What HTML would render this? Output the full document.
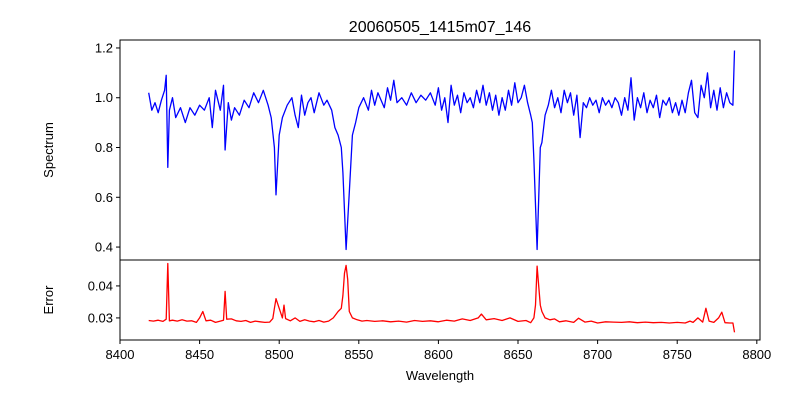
<!DOCTYPE html>
<html><head><meta charset="utf-8"><style>
body{margin:0;background:#fff;}
svg{display:block;font-family:"Liberation Sans","DejaVu Sans",sans-serif;}
</style></head><body>
<svg id="chart" width="800" height="400">
<text x="440" y="32" font-size="16" text-anchor="middle">20060505_1415m07_146</text>
<text x="53" y="150" font-size="13" text-anchor="middle" transform="rotate(-90 53 150)">Spectrum</text>
<text x="53" y="300" font-size="13" text-anchor="middle" transform="rotate(-90 53 300)">Error</text>
<text x="440" y="380" font-size="13" text-anchor="middle">Wavelength</text>
<g id="topPanel"></g>
<g id="botPanel"></g>
</svg>
<script>
const specW=[8418,8420,8422,8424,8426,8428,8429,8430,8431,8433,8435,8438,8441,8444,8447,8450,8453,8456,8458,8460,8463,8465,8466,8468,8470,8472,8475,8478,8481,8484,8487,8490,8493,8495,8497,8498,8500,8502,8505,8508,8510,8512,8514,8516,8518,8520,8522,8525,8528,8530,8533,8535,8537,8539,8540,8542,8544,8546,8548,8550,8553,8556,8558,8560,8562,8564,8566,8568,8570,8572,8574,8577,8580,8583,8586,8589,8592,8595,8598,8600,8602,8604,8606,8608,8610,8612,8614,8616,8618,8620,8622,8624,8626,8628,8630,8632,8634,8636,8638,8640,8642,8644,8646,8648,8650,8652,8654,8656,8658,8659,8660,8662,8664,8665,8667,8669,8671,8673,8675,8677,8679,8681,8683,8685,8687,8689,8691,8693,8695,8697,8699,8701,8703,8705,8707,8709,8711,8713,8715,8717,8719,8721,8723,8725,8727,8729,8731,8733,8735,8737,8739,8741,8743,8745,8747,8749,8751,8753,8755,8757,8759,8761,8763,8765,8767,8769,8771,8773,8775,8777,8779,8781,8783,8785,8786];
const specF=[1.02,0.95,0.98,0.94,0.99,1.03,1.09,0.72,0.95,1.00,0.92,0.96,0.90,0.96,0.93,0.97,0.95,1.00,0.88,1.03,0.95,1.05,0.79,0.98,0.91,0.96,0.93,0.99,0.96,1.02,0.98,1.03,0.97,0.92,0.80,0.61,0.85,0.92,0.97,1.00,0.93,0.88,1.01,0.93,0.98,1.00,0.94,1.02,0.97,0.99,0.95,0.88,0.85,0.80,0.70,0.39,0.62,0.85,0.90,0.96,1.00,0.95,1.03,0.97,1.02,0.99,0.96,1.04,0.99,1.07,0.98,1.00,0.97,1.02,0.98,1.01,0.99,1.02,0.97,1.04,0.95,1.00,0.90,1.05,0.97,1.01,0.94,1.02,0.98,1.00,0.96,1.03,0.98,1.05,0.97,1.02,0.95,1.01,0.93,1.00,0.95,1.03,0.97,1.06,0.98,1.00,1.05,0.98,0.93,0.90,0.75,0.39,0.80,0.82,0.93,0.97,1.03,0.96,1.00,0.94,1.03,0.98,1.02,0.93,1.01,0.84,0.98,0.96,1.00,0.97,0.99,0.94,1.00,0.97,0.99,0.96,1.00,0.98,0.93,1.00,0.95,1.08,0.91,1.00,0.96,1.02,0.94,0.99,0.96,1.01,0.92,0.99,0.97,1.00,0.94,0.98,0.93,0.99,0.94,1.02,1.07,0.94,0.92,1.05,1.00,1.10,0.96,1.03,0.95,1.04,0.96,1.02,0.98,0.97,1.19];
const errW=[8418,8421,8424,8427,8429,8430,8431,8433,8436,8439,8442,8445,8448,8450,8452,8454,8457,8460,8463,8465,8466,8467,8470,8473,8476,8479,8482,8485,8488,8491,8494,8496,8497,8498,8500,8502,8503,8504,8507,8510,8513,8516,8519,8522,8525,8528,8531,8534,8537,8539,8540,8541,8542,8543,8544,8546,8549,8552,8555,8560,8565,8570,8575,8580,8585,8590,8595,8600,8605,8610,8615,8620,8625,8627,8630,8635,8640,8645,8650,8655,8658,8660,8661,8662,8663,8664,8665,8667,8670,8673,8676,8680,8685,8688,8692,8696,8700,8705,8710,8715,8720,8725,8730,8735,8740,8745,8750,8755,8758,8760,8763,8766,8768,8770,8773,8776,8778,8780,8783,8785,8786];
const errV=[0.0292,0.0290,0.0293,0.0289,0.0296,0.0470,0.0291,0.0293,0.0290,0.0294,0.0290,0.0291,0.0286,0.0300,0.0320,0.0291,0.0293,0.0286,0.0290,0.0293,0.0383,0.0296,0.0297,0.0291,0.0289,0.0292,0.0286,0.0290,0.0288,0.0286,0.0287,0.0298,0.0330,0.0360,0.0330,0.0300,0.0340,0.0298,0.0291,0.0300,0.0289,0.0294,0.0290,0.0288,0.0292,0.0287,0.0290,0.0300,0.0320,0.0330,0.0370,0.0440,0.0464,0.0420,0.0320,0.0300,0.0294,0.0290,0.0292,0.0289,0.0291,0.0288,0.0290,0.0287,0.0292,0.0289,0.0291,0.0288,0.0293,0.0290,0.0297,0.0292,0.0300,0.0312,0.0294,0.0298,0.0292,0.0300,0.0289,0.0292,0.0285,0.0300,0.0340,0.0462,0.0400,0.0340,0.0320,0.0300,0.0294,0.0297,0.0288,0.0291,0.0286,0.0299,0.0287,0.0290,0.0284,0.0288,0.0287,0.0286,0.0288,0.0285,0.0287,0.0285,0.0286,0.0284,0.0286,0.0284,0.0290,0.0286,0.0300,0.0287,0.0330,0.0290,0.0286,0.0300,0.0318,0.0285,0.0284,0.0284,0.0255];
const xTicks=[8400,8450,8500,8550,8600,8650,8700,8750,8800];
const topTicks=[0.4,0.6,0.8,1.0,1.2];
const botTicks=[0.03,0.04];

const L=120,R=760;
const xs=w=>L+(w-8400)*(R-L)/(8802-8400);
const yT=v=>40+(1.232-v)*(220/(1.232-0.348));
const yB=v=>260+(0.0481-v)*(80/(0.0481-0.0231));
const NS='http://www.w3.org/2000/svg';
function mk(tag,parent,attrs){const e=document.createElementNS(NS,tag);for(const k in attrs)e.setAttribute(k,attrs[k]);parent.appendChild(e);return e;}
const topG=document.getElementById('topPanel'),botG=document.getElementById('botPanel');
function pathD(W,V,yf){const n=Math.min(W.length,V.length);let d='';for(let i=0;i<n;i++)d+=(i?'L':'M')+xs(W[i]).toFixed(1)+','+yf(V[i]).toFixed(1);return d;}

const p=mk('path',topG,{d:pathD(specW,specF,yT),fill:'none',stroke:'#0000ff','stroke-width':1.3,'stroke-linejoin':'round'});


const q=mk('path',botG,{d:pathD(errW,errV,yB),fill:'none',stroke:'#ff0000','stroke-width':1.3,'stroke-linejoin':'round'});



const f1=mk('rect',topG,{x:L,y:40,width:R-L,height:220,fill:'none',stroke:'#000','stroke-width':1});


const f2=mk('rect',botG,{x:L,y:260,width:R-L,height:80,fill:'none',stroke:'#000','stroke-width':1});



topTicks.forEach(v=>{const y=yT(v);mk('line',topG,{x1:L-4,x2:L,y1:y,y2:y,stroke:'#000'});
 const t=mk('text',topG,{x:L-7,y:y+4.5,'font-size':13,'text-anchor':'end'});t.textContent=v.toFixed(1);
 
 });
botTicks.forEach(v=>{const y=yB(v);mk('line',botG,{x1:L-4,x2:L,y1:y,y2:y,stroke:'#000'});
 const t=mk('text',botG,{x:L-7,y:y+4.5,'font-size':13,'text-anchor':'end'});t.textContent=v.toFixed(2);
 
 });
xTicks.forEach(v=>{const xx=xs(v);mk('line',botG,{x1:xx,x2:xx,y1:340,y2:344,stroke:'#000'});
 const t=mk('text',botG,{x:xx,y:359,'font-size':13,'text-anchor':'middle'});t.textContent=v;
 
 });
</script>
</body></html>
